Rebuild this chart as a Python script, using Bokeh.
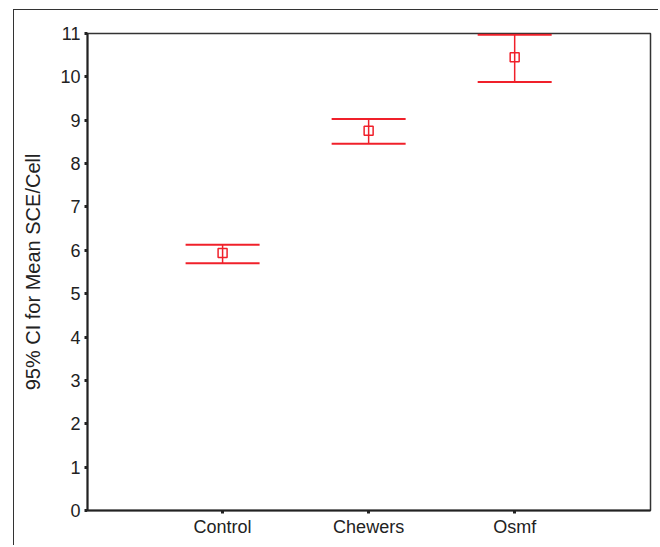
from bokeh.plotting import figure
from bokeh.models import Range1d, FixedTicker, Whisker, ColumnDataSource, TeeHead
from bokeh.embed import file_html
from bokeh.resources import INLINE

categories = ["Control", "Chewers", "Osmf"]
means = [5.94, 8.76, 10.45]
upper = [6.13, 9.03, 10.97]
lower = [5.70, 8.46, 9.88]
y_ticks = list(range(0, 12))

xs = [i + 1 for i in range(len(categories))]
src = ColumnDataSource(dict(x=xs, mean=means, upper=upper, lower=lower))

RED = "#f0202a"
FONT = "Liberation Sans"

p = figure(width=645, height=536, output_backend="svg", toolbar_location=None,
           x_range=Range1d(0.075, 3.93), y_range=Range1d(0, 11),
           min_border_left=73, min_border_top=23, min_border_right=9, min_border_bottom=36)
p.styles = {"border-top": "1px solid #333", "border-left": "1px solid #333",
            "margin-left": "13px", "margin-top": "9px"}

p.xgrid.visible = False
p.ygrid.visible = False
p.outline_line_color = "#333333"
p.outline_line_width = 1.5
p.background_fill_color = "white"
p.border_fill_color = "white"

whisk = Whisker(source=src, base="x", upper="upper", lower="lower",
                line_color=RED, line_width=1.5,
                upper_head=TeeHead(size=74, line_color=RED, line_width=2),
                lower_head=TeeHead(size=74, line_color=RED, line_width=2))
p.add_layout(whisk)
p.scatter("x", "mean", source=src, marker="square", size=9, fill_color=None,
          line_color=RED, line_width=1.5)

for ax in (p.xaxis[0], p.yaxis[0]):
    ax.axis_line_color = "#222222"
    ax.axis_line_width = 2
    ax.major_tick_line_color = "#222222"
    ax.major_tick_line_width = 3
    ax.major_tick_in = 0
    ax.major_tick_out = 3
    ax.minor_tick_line_color = None
    ax.major_label_text_font = FONT
    ax.major_label_text_font_size = "18px"
    ax.major_label_text_color = "#222222"

p.xaxis.ticker = FixedTicker(ticks=xs)
p.xaxis.major_label_overrides = {x: c for x, c in zip(xs, categories)}
p.xaxis.major_label_standoff = 3

p.yaxis.ticker = FixedTicker(ticks=y_ticks)
p.yaxis.major_label_standoff = 4
p.yaxis.axis_label = "95% CI for Mean SCE/Cell"
p.yaxis.axis_label_text_font = FONT
p.yaxis.axis_label_text_font_size = "20px"
p.yaxis.axis_label_text_font_style = "normal"
p.yaxis.axis_label_text_color = "#222222"
p.yaxis.axis_label_standoff = 13

open("out.html", "w").write(file_html(p, INLINE))
